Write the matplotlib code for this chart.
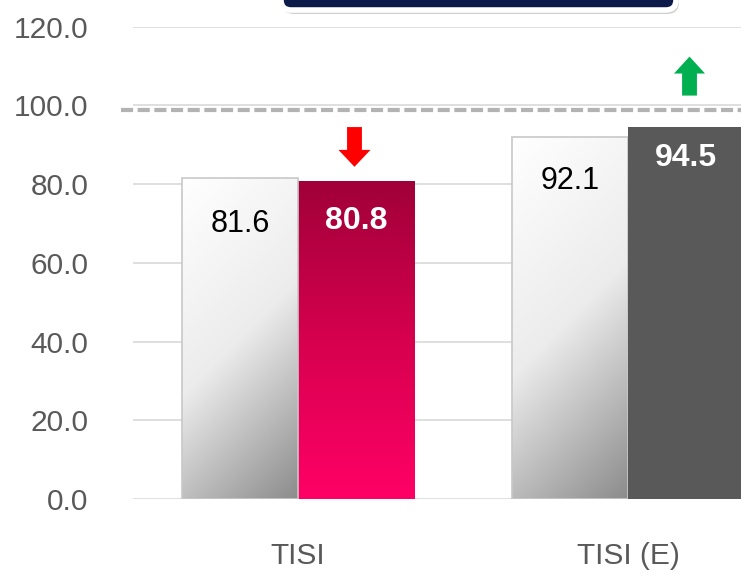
import matplotlib
matplotlib.use('Agg')
import matplotlib.pyplot as plt
import numpy as np
from matplotlib.patches import FancyBboxPatch, FancyArrow
from matplotlib.colors import LinearSegmentedColormap

plt.rcParams['font.family'] = ['Liberation Sans', 'DejaVu Sans']

# data
categories = ['TISI', 'TISI (E)']
base_vals = [81.6, 92.1]      # light gray bars
curr_vals = [80.8, 94.5]      # coloured bars
target = 98.8                 # dashed reference line
trend = ['down', 'up']

fig = plt.figure(figsize=(7.41, 5.75), dpi=100)
ax = fig.add_axes([133 / 741, 76 / 575, 608 / 741, 472.3 / 575])

x = np.arange(len(categories))
w = 0.352

# grid
ax.set_yticks(np.arange(0, 121, 20))
ax.set_yticklabels([f'{v:.1f}' for v in np.arange(0, 121, 20)])
ax.grid(axis='y', color='#d9d9d9', linewidth=1.2, zorder=0)
ax.set_axisbelow(True)
for s in ax.spines.values():
    s.set_visible(False)
ax.tick_params(axis='both', length=0, colors='#595959')
ax.tick_params(axis='y', labelsize=21.5, pad=32)
ax.tick_params(axis='x', labelsize=21.5, pad=31)
ax.set_xticks(x)
ax.set_xticklabels(categories)

# gradients
gray_cmap = LinearSegmentedColormap.from_list('g', ['#ffffff', '#ececec', '#8c8c8c'])
red_cmap = LinearSegmentedColormap.from_list('r', ['#a00038', '#d6004e', '#ff0066'])

def grad_bar(xc, h, kind):
    bar = ax.bar(xc, h, w, color='none', edgecolor='#c8c8c8' if kind == 'gray' else 'none',
                 linewidth=1.2, zorder=3)[0]
    if kind == 'dark':
        bar.set_facecolor('#595959')
        return
    ny, nx = 200, 60
    if kind == 'gray':
        px_w, px_h = 116, h * 3.936
        yy, xx = np.mgrid[0:1:ny * 1j, 0:1:nx * 1j]
        t = (xx * px_w + yy * px_h) / (px_w + px_h)
        cmap = gray_cmap
    else:
        t = np.linspace(0, 1, ny)[:, None] * np.ones((1, nx))
        cmap = red_cmap
    im = ax.imshow(t, cmap=cmap, vmin=0, vmax=1, aspect='auto',
                   extent=[xc - w / 2, xc + w / 2, 0, h], origin='upper', zorder=2)
    im.set_clip_path(bar)

for i in range(len(categories)):
    grad_bar(x[i] - w / 2, base_vals[i], 'gray')
    grad_bar(x[i] + w / 2, curr_vals[i], 'red' if i == 0 else 'dark')

ax.set_xlim(-0.5, 1.342)
ax.set_ylim(0, 120)

# value labels
off_base = [-33, -32]
off_curr = [-29, -22]
for i in range(len(categories)):
    ax.annotate(f'{base_vals[i]:.1f}', (x[i] - w / 2, base_vals[i]), xytext=(0, off_base[i]),
                textcoords='offset points', ha='center', va='center', fontsize=22,
                color='black', zorder=5)
    ax.annotate(f'{curr_vals[i]:.1f}', (x[i] + w / 2, curr_vals[i]), xytext=(0, off_curr[i]),
                textcoords='offset points', ha='center', va='center', fontsize=23,
                fontweight='bold', color='white', zorder=5)

# dashed reference line
ax.axhline(target, xmin=-12 / 608, xmax=1, color='#b3b3b3', linewidth=3,
           dashes=(2.9, 1.1), clip_on=False, zorder=4)

# trend arrows
for i in range(len(categories)):
    xc = x[i] + w / 2
    if trend[i] == 'down':
        arr = FancyArrow(xc - 0.005, curr_vals[i] + 13.7, 0, -10.1, width=0.045, head_width=0.097,
                         head_length=4.3, length_includes_head=True, color='#ff0000',
                         linewidth=0, clip_on=False, zorder=5)
    else:
        arr = FancyArrow(xc + 0.01, curr_vals[i] + 8.0, 0, 9.9, width=0.045, head_width=0.094,
                         head_length=4.3, length_includes_head=True, color='#00b050',
                         linewidth=0, clip_on=False, zorder=5)
    ax.add_patch(arr)

# clipped legend/title box at top
shadow = FancyBboxPatch((282 / 100, (575 - 14) / 100), 397 / 100, 0.6,
                        boxstyle='round,pad=0,rounding_size=0.12', transform=fig.dpi_scale_trans,
                        facecolor='#c4c4c4', edgecolor='none', alpha=0.8)
fig.add_artist(shadow)
box = FancyBboxPatch((281 / 100, (575 - 10) / 100), 395 / 100, 0.6,
                     boxstyle='round,pad=0,rounding_size=0.1', transform=fig.dpi_scale_trans,
                     facecolor='#0b1a48', edgecolor='white', linewidth=4)
fig.add_artist(box)

fig.savefig('out.png', dpi=100)
